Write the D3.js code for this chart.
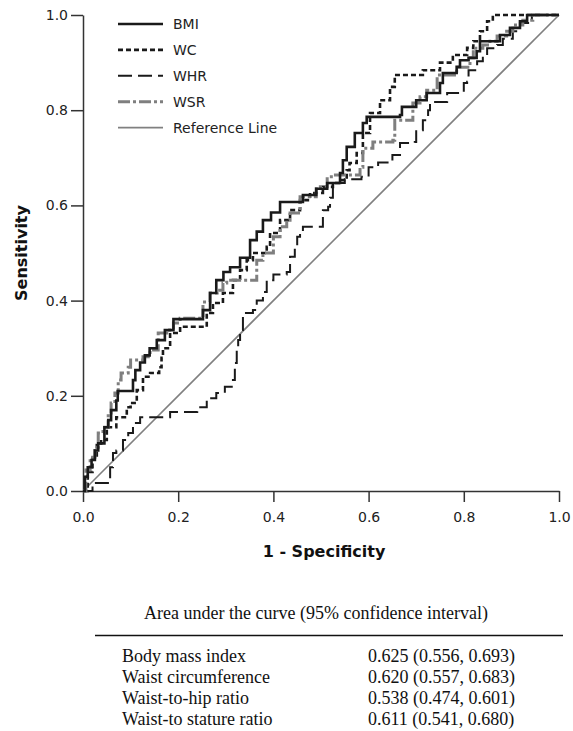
<!DOCTYPE html>
<html>
<head>
<meta charset="utf-8">
<script src="https://cdn.jsdelivr.net/npm/d3@7"></script>
<style>
  body { margin: 0; background: #fff; }
  svg { display: block; }
</style>
</head>
<body>
<div id="chart"></div>
<script>
// ROC points: [1 - specificity, sensitivity]
var bmi = [[0,0],[0.004,0.03],[0.01,0.05],[0.018,0.065],[0.025,0.085],[0.032,0.10],[0.045,0.134],[0.053,0.149],[0.059,0.17],[0.07,0.19],[0.073,0.21],[0.102,0.21],[0.105,0.233],[0.11,0.254],[0.12,0.27],[0.13,0.285],[0.14,0.30],[0.155,0.317],[0.172,0.338],[0.19,0.361],[0.246,0.361],[0.252,0.38],[0.267,0.416],[0.28,0.443],[0.295,0.46],[0.309,0.47],[0.33,0.49],[0.351,0.527],[0.365,0.545],[0.378,0.569],[0.395,0.585],[0.414,0.607],[0.456,0.607],[0.462,0.622],[0.49,0.635],[0.513,0.647],[0.54,0.668],[0.546,0.695],[0.554,0.723],[0.571,0.752],[0.588,0.773],[0.596,0.786],[0.666,0.79],[0.67,0.807],[0.70,0.821],[0.722,0.836],[0.75,0.857],[0.756,0.878],[0.785,0.891],[0.792,0.905],[0.81,0.91],[0.827,0.924],[0.834,0.945],[0.876,0.958],[0.897,0.973],[0.918,0.987],[0.933,1],[1,1]];
var wc = [[0,0],[0.01,0.04],[0.02,0.07],[0.029,0.10],[0.038,0.107],[0.05,0.134],[0.07,0.155],[0.092,0.176],[0.10,0.185],[0.113,0.212],[0.126,0.24],[0.141,0.248],[0.16,0.26],[0.165,0.28],[0.168,0.30],[0.183,0.332],[0.204,0.345],[0.252,0.345],[0.26,0.374],[0.273,0.395],[0.294,0.416],[0.315,0.443],[0.33,0.464],[0.344,0.485],[0.357,0.50],[0.375,0.50],[0.386,0.513],[0.393,0.542],[0.414,0.569],[0.435,0.59],[0.456,0.611],[0.477,0.626],[0.504,0.639],[0.525,0.647],[0.54,0.653],[0.554,0.674],[0.56,0.689],[0.575,0.71],[0.588,0.752],[0.603,0.794],[0.624,0.821],[0.645,0.849],[0.655,0.874],[0.693,0.874],[0.714,0.884],[0.75,0.90],[0.777,0.916],[0.807,0.931],[0.82,0.945],[0.834,0.966],[0.849,0.987],[0.861,1],[1,1]];
var whr = [[0,0],[0.02,0],[0.02,0.017],[0.052,0.017],[0.057,0.05],[0.063,0.08],[0.07,0.085],[0.084,0.107],[0.095,0.122],[0.105,0.143],[0.12,0.155],[0.176,0.155],[0.183,0.166],[0.225,0.166],[0.24,0.176],[0.26,0.195],[0.28,0.206],[0.298,0.219],[0.315,0.233],[0.319,0.269],[0.323,0.303],[0.326,0.317],[0.33,0.338],[0.336,0.374],[0.357,0.38],[0.365,0.40],[0.378,0.418],[0.386,0.443],[0.40,0.455],[0.428,0.46],[0.435,0.492],[0.445,0.513],[0.45,0.534],[0.456,0.542],[0.462,0.555],[0.498,0.555],[0.504,0.59],[0.515,0.597],[0.519,0.616],[0.525,0.647],[0.55,0.655],[0.585,0.66],[0.60,0.68],[0.62,0.69],[0.65,0.706],[0.666,0.731],[0.697,0.733],[0.70,0.758],[0.714,0.779],[0.725,0.80],[0.729,0.817],[0.765,0.836],[0.788,0.836],[0.80,0.857],[0.807,0.86],[0.81,0.884],[0.828,0.884],[0.828,0.903],[0.84,0.91],[0.849,0.93],[0.87,0.937],[0.882,0.95],[0.903,0.966],[0.918,0.983],[0.939,0.983],[0.943,1],[1,1]];
var wsr = [[0,0],[0.006,0.044],[0.015,0.071],[0.025,0.092],[0.032,0.122],[0.042,0.134],[0.053,0.164],[0.059,0.185],[0.067,0.206],[0.074,0.233],[0.08,0.248],[0.095,0.26],[0.10,0.275],[0.126,0.282],[0.141,0.296],[0.158,0.332],[0.176,0.338],[0.19,0.353],[0.204,0.363],[0.246,0.363],[0.252,0.397],[0.267,0.416],[0.282,0.422],[0.294,0.437],[0.302,0.443],[0.365,0.443],[0.365,0.485],[0.378,0.50],[0.40,0.534],[0.414,0.555],[0.428,0.569],[0.435,0.584],[0.456,0.618],[0.49,0.639],[0.513,0.66],[0.525,0.664],[0.56,0.664],[0.582,0.68],[0.588,0.72],[0.609,0.733],[0.651,0.737],[0.655,0.779],[0.693,0.815],[0.708,0.828],[0.722,0.842],[0.744,0.857],[0.744,0.874],[0.771,0.874],[0.785,0.89],[0.813,0.91],[0.82,0.93],[0.84,0.937],[0.855,0.945],[0.87,0.956],[0.89,0.966],[0.903,0.979],[0.924,0.989],[0.945,1],[1,1]];
var refLine = [[0,0],[1,1]];

var seriesNames = ["BMI", "WC", "WHR", "WSR", "Reference Line"];
var xTicks = [0, 0.2, 0.4, 0.6, 0.8, 1.0];
var yTicks = [0, 0.2, 0.4, 0.6, 0.8, 1.0];

var tableTitle = "Area under the curve (95% confidence interval)";
var tableLabels = ["Body mass index", "Waist circumference", "Waist-to-hip ratio", "Waist-to stature ratio"];
var aucValues = [0.625, 0.620, 0.538, 0.611];
var aucLower = [0.556, 0.557, 0.474, 0.541];
var aucUpper = [0.693, 0.683, 0.601, 0.680];

var width = 573, height = 731;
var axis_color = '#333';
var font = 'DejaVu Sans, Verdana, sans-serif';

// line styles, same order as seriesNames
var styles = [
    {color: '#1a1a1a', w: 2.6, dash: null},
    {color: '#1a1a1a', w: 2.6, dash: '5,3'},
    {color: '#1a1a1a', w: 2, dash: '14,6'},
    {color: '#7f7f7f', w: 3, dash: '12,3,3,3'},
    {color: '#808080', w: 1.6, dash: null}
];
var curves = [bmi, wc, whr, wsr, refLine];

var svg = d3.select("#chart").append("svg")
    .attr("width", width)
    .attr("height", height);

var x = d3.scaleLinear().domain([0, 1]).range([83, 559]);
var y = d3.scaleLinear().domain([0, 1]).range([491, 15]);

// axes
var xAxis = svg.append("g")
    .attr("transform", "translate(0," + y(0) + ")")
    .call(d3.axisBottom(x).tickValues(xTicks).tickFormat(d3.format(".1f")).tickSize(11).tickSizeOuter(0).tickPadding(10));
var yAxis = svg.append("g")
    .attr("transform", "translate(" + x(0) + ",0)")
    .call(d3.axisLeft(y).tickValues(yTicks).tickFormat(d3.format(".1f")).tickSize(12).tickSizeOuter(0).tickPadding(3));

[xAxis, yAxis].forEach(function(a){
    a.selectAll("path, line").attr("stroke", axis_color).attr("stroke-width", 1.5);
    a.selectAll("text")
        .attr("font-family", font)
        .attr("font-size", 14)
        .attr("fill", "#222");
});

svg.append("text")
    .attr("x", 324)
    .attr("y", 557)
    .attr("text-anchor", "middle")
    .attr("font-family", font)
    .attr("font-weight", "bold")
    .attr("font-size", 16)
    .attr("fill", "#111")
    .text("1 - Specificity");

svg.append("text")
    .attr("transform", "translate(27," + y(0.5) + ") rotate(-90)")
    .attr("text-anchor", "middle")
    .attr("font-family", font)
    .attr("font-weight", "bold")
    .attr("font-size", 16)
    .attr("fill", "#111")
    .text("Sensitivity");

// curves - reference line at the bottom
var line = d3.line()
    .x(function(d){ return x(d[0]); })
    .y(function(d){ return y(d[1]); });

var drawOrder = [4, 2, 1, 3, 0];
drawOrder.forEach(function(i){
    var p = svg.append("path")
        .attr("d", line.curve(i == 4 ? d3.curveLinear : d3.curveStepAfter)(curves[i]))
        .attr("fill", "none")
        .attr("stroke", styles[i].color)
        .attr("stroke-width", styles[i].w)
        .attr("stroke-linejoin", "miter");
    if (styles[i].dash) p.attr("stroke-dasharray", styles[i].dash);
});

// legend
var legend = svg.selectAll(".legend")
    .data(seriesNames)
    .enter()
    .append("g")
    .attr("transform", function(d, i){
        return "translate(118," + (24 + i*25.9) + ")";
    });
legend.append("line")
    .attr("x1", 0).attr("x2", 45)
    .attr("y1", 0).attr("y2", 0)
    .attr("stroke", function(d, i){ return styles[i].color; })
    .attr("stroke-width", function(d, i){ return styles[i].w; })
    .attr("stroke-dasharray", function(d, i){ return styles[i].dash; });
legend.append("text")
    .attr("x", 55)
    .attr("y", 5)
    .attr("font-family", font)
    .attr("font-size", 14)
    .attr("fill", "#222")
    .text(function(d){ return d; });

// AUC table
var serif = 'Liberation Serif, Times New Roman, serif';
var fmt = d3.format(".3f");
svg.append("text")
    .attr("x", 316)
    .attr("y", 619)
    .attr("text-anchor", "middle")
    .attr("font-family", serif)
    .attr("font-size", 18)
    .attr("fill", "#111")
    .text(tableTitle);
svg.append("line")
    .attr("x1", 95).attr("x2", 563)
    .attr("y1", 635.5).attr("y2", 635.5)
    .attr("stroke", "#111")
    .attr("stroke-width", 1.5);

var rows = svg.selectAll(".row")
    .data(tableLabels)
    .enter()
    .append("g")
    .attr("transform", function(d, i){ return "translate(0," + (662 + i*21) + ")"; });
rows.append("text")
    .attr("x", 122)
    .attr("font-family", serif)
    .attr("font-size", 18)
    .attr("fill", "#111")
    .text(function(d){ return d; });
rows.append("text")
    .attr("x", 368)
    .attr("font-family", serif)
    .attr("font-size", 18)
    .attr("fill", "#111")
    .text(function(d, i){
        return fmt(aucValues[i]) + " (" + fmt(aucLower[i]) + ", " + fmt(aucUpper[i]) + ")";
    });
</script>
</body>
</html>
